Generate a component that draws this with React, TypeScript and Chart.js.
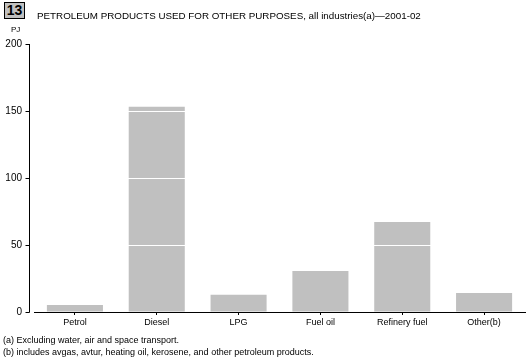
import React, { useEffect, useRef } from "react";
import { Chart, registerables } from "chart.js";

Chart.register(...registerables);

const categories = ["Petrol", "Diesel", "LPG", "Fuel oil", "Refinery fuel", "Other(b)"];
const values = [5.2, 153.2, 12.9, 30.6, 67.2, 14.2];
const yTicks = [0, 50, 100, 150, 200];

const title = "PETROLEUM PRODUCTS USED FOR OTHER PURPOSES, all industries(a)\u20142001-02";
const unitLabel = "PJ";
const chartNumber = "13";
const footnotes = [
  "(a) Excluding water, air and space transport.",
  "(b) includes avgas, avtur, heating oil, kerosene, and other petroleum products.",
];

const FONT = "'Liberation Sans', Arial, sans-serif";

const yAxisPlugin = {
  id: "offsetYAxis",
  afterDraw(chart: any) {
    const { ctx, chartArea, scales } = chart;
    const y = scales.y;
    const x0 = Math.round(chartArea.left - 5) + 0.5;
    ctx.save();
    ctx.strokeStyle = "#000";
    ctx.lineWidth = 1;
    ctx.beginPath();
    const top = Math.round(y.getPixelForValue(200));
    const bot = Math.round(y.getPixelForValue(0));
    ctx.moveTo(x0, top);
    ctx.lineTo(x0, bot + 0.5);
    for (const v of yTicks) {
      const py = Math.round(y.getPixelForValue(v)) + 0.5;
      ctx.moveTo(x0 - 4, py);
      ctx.lineTo(x0, py);
    }
    ctx.stroke();
    ctx.restore();
  },
};

export default function App() {
  const ref = useRef<HTMLCanvasElement | null>(null);

  useEffect(() => {
    document.body.style.margin = "0";
    const canvas = ref.current;
    if (!canvas) return;
    const chart = new Chart(canvas, {
      type: "bar",
      data: {
        labels: categories,
        datasets: [
          {
            data: values,
            backgroundColor: "#c0c0c0",
            borderWidth: 0,
            categoryPercentage: 1,
            barPercentage: 0.685,
          },
        ],
      },
      options: {
        animation: false,
        responsive: false,
        devicePixelRatio: 1,
        layout: { padding: { top: 44, right: 4, bottom: 0, left: 0 } },
        plugins: { legend: { display: false }, tooltip: { enabled: false }, title: { display: false } },
        scales: {
          x: {
            offset: true,
            afterFit: (s: any) => {
              s.height = 51;
            },
            grid: {
              offset: false,
              drawOnChartArea: false,
              drawTicks: true,
              tickLength: 3,
              tickColor: "#000",
              color: "#000",
            },
            border: { display: true, color: "#000", width: 1, z: 2 },
            ticks: {
              color: "#000",
              padding: 2,
              font: { family: FONT, size: 9 },
              maxRotation: 0,
              autoSkip: false,
            },
          },
          y: {
            min: 0,
            max: 200,
            afterFit: (s: any) => {
              s.width = 34;
            },
            afterBuildTicks: (s: any) => {
              s.ticks = yTicks.map((v) => ({ value: v }));
            },
            grid: {
              z: 1,
              color: (c: any) => (c.tick && c.tick.value === 0 ? "rgba(0,0,0,0)" : "#ffffff"),
              lineWidth: 1,
              drawTicks: true,
              tickLength: 8,
              tickColor: "rgba(0,0,0,0)",
            },
            border: { display: false },
            ticks: {
              color: "#000",
              padding: 4,
              font: { family: FONT, size: 10 },
            },
          },
        },
      },
      plugins: [yAxisPlugin],
    });
    return () => chart.destroy();
  }, []);

  const base: React.CSSProperties = {
    position: "absolute",
    fontFamily: FONT,
    color: "#000",
    whiteSpace: "nowrap",
  };

  return (
    <div style={{ position: "fixed", left: 0, top: 0, width: 529, height: 363, background: "#fff" }}>
      <canvas ref={ref} width={529} height={363} style={{ position: "absolute", left: 0, top: 0 }} />
      <div
        style={{
          ...base,
          left: 4,
          top: 2,
          width: 19,
          height: 15,
          border: "1px solid #000",
          background: "#c0c0c0",
          fontWeight: "bold",
          fontSize: 14,
          lineHeight: "15px",
          textAlign: "center",
        }}
      >
        {chartNumber}
      </div>
      <div style={{ ...base, left: 37, top: 10, fontSize: 9.8, lineHeight: "12px" }}>{title}</div>
      <div style={{ ...base, left: 11, top: 25, fontSize: 8, lineHeight: "10px" }}>{unitLabel}</div>
      <div style={{ ...base, left: 3, top: 335, fontSize: 9, lineHeight: "11px" }}>{footnotes[0]}</div>
      <div style={{ ...base, left: 3, top: 347, fontSize: 9, lineHeight: "11px" }}>{footnotes[1]}</div>
    </div>
  );
}
